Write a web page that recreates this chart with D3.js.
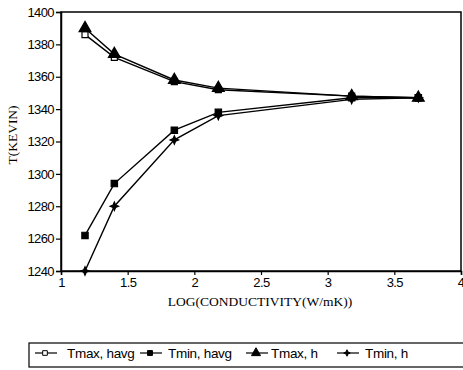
<!DOCTYPE html>
<html>
<head>
<meta charset="utf-8">
<script src="https://cdn.jsdelivr.net/npm/d3@7"></script>
<style>
  html, body { margin: 0; padding: 0; background: #fff; }
  svg { display: block; }
</style>
</head>
<body>
<script>
// log10 of thermal conductivity (W/mK)
const logK = [1.18, 1.40, 1.85, 2.18, 3.18, 3.68];
// temperatures in kelvin
const tmaxHavg = [1386, 1372, 1357, 1352, 1348, 1347];
const tminHavg = [1262, 1294, 1327, 1338, 1347, 1347];
const tmaxH    = [1390, 1374, 1358, 1353, 1348, 1347];
const tminH    = [1240, 1280, 1321, 1336, 1346, 1347];

const xTicks = [1, 1.5, 2, 2.5, 3, 3.5, 4];
const yTicks = [1240, 1260, 1280, 1300, 1320, 1340, 1360, 1380, 1400];
const seriesNames = ["Tmax, havg", "Tmin, havg", "Tmax, h", "Tmin, h"];

const W = 463, H = 370;
const plotL = 61, plotR = 461, plotT = 12, plotB = 271;

const svg = d3.select("body").append("svg")
  .attr("width", W).attr("height", H);

const x = d3.scaleLinear().domain([1, 4]).range([plotL, plotR]);
const y = d3.scaleLinear().domain([1240, 1400]).range([plotB, plotT]);

// four-pointed star marker
const star4 = {
  draw(ctx, size) {
    const r = Math.sqrt(size) * 0.9, q = r * 0.3;
    ctx.moveTo(0, -r); ctx.lineTo(q, -q); ctx.lineTo(r, 0); ctx.lineTo(q, q);
    ctx.lineTo(0, r); ctx.lineTo(-q, q); ctx.lineTo(-r, 0); ctx.lineTo(-q, -q);
    ctx.closePath();
  }
};

const series = [
  { name: seriesNames[0], values: tmaxHavg, sym: d3.symbolSquare, size: 36, fill: "#fff" },
  { name: seriesNames[1], values: tminHavg, sym: d3.symbolSquare, size: 40, fill: "#000" },
  { name: seriesNames[2], values: tmaxH,    sym: d3.symbolTriangle, size: 60, fill: "#000" },
  { name: seriesNames[3], values: tminH,    sym: star4, size: 22, fill: "#000" }
];

// frame
svg.append("rect")
  .attr("x", plotL).attr("y", plotT)
  .attr("width", plotR - plotL).attr("height", plotB - plotT)
  .attr("fill", "none").attr("stroke", "#000").attr("stroke-width", 1.5);

// axes
const tickFont = "Liberation Sans, Arial, sans-serif";
const gx = svg.append("g").attr("transform", `translate(0,${plotB})`)
  .call(d3.axisBottom(x).tickValues(xTicks).tickSize(4).tickPadding(3)
    .tickFormat(d => String(d)));
const gy = svg.append("g").attr("transform", `translate(${plotL},0)`)
  .call(d3.axisLeft(y).tickValues(yTicks).tickSize(5).tickPadding(2)
    .tickFormat(d3.format("d")));
[gx, gy].forEach(g => {
  g.select(".domain").attr("stroke-width", 1.5);
  g.selectAll(".tick line").attr("stroke-width", 1.2);
  g.selectAll("text").attr("font-family", tickFont).attr("font-size", 13)
    .attr("fill", "#000").attr("letter-spacing", -0.6);
});
// last x label sits at the window edge; keep it inside
gx.selectAll(".tick").filter(d => d === 4).select("text")
  .attr("text-anchor", "end").attr("dx", 3);

// axis titles
svg.append("text")
  .attr("x", (plotL + plotR) / 2 - 1).attr("y", 306)
  .attr("text-anchor", "middle")
  .attr("font-family", "Liberation Serif, Times New Roman, serif")
  .attr("font-size", 13.5)
  .text("LOG(CONDUCTIVITY(W/mK))");
svg.append("text")
  .attr("transform", "translate(17,135) rotate(-90)")
  .attr("text-anchor", "middle")
  .attr("font-family", "Liberation Serif, Times New Roman, serif")
  .attr("font-size", 13.5)
  .text("T(KEVIN)");

// lines and markers
const line = d3.line().x((d, i) => x(logK[i])).y(d => y(d));
series.forEach(s => {
  svg.append("path").datum(s.values)
    .attr("d", line).attr("fill", "none")
    .attr("stroke", "#000").attr("stroke-width", 1.4);
});
series.forEach(s => {
  svg.append("g").selectAll("path").data(s.values).join("path")
    .attr("transform", (d, i) => `translate(${x(logK[i])},${y(d)})`)
    .attr("d", d3.symbol().type(s.sym).size(s.size))
    .attr("fill", s.fill).attr("stroke", "#000").attr("stroke-width", 1.2);
});

// legend
const lg = svg.append("g");
lg.append("rect")
  .attr("x", 29).attr("y", 343).attr("width", 460).attr("height", 24)
  .attr("fill", "none").attr("stroke", "#000").attr("stroke-width", 1.2);
const legX = [35, 140, 246, 337];
const legTextX = [67, 168, 271, 365];
series.forEach((s, i) => {
  const g = lg.append("g");
  g.append("line")
    .attr("x1", legX[i]).attr("x2", legX[i] + 22)
    .attr("y1", 353).attr("y2", 353)
    .attr("stroke", "#000").attr("stroke-width", 1.2);
  g.append("path")
    .attr("transform", `translate(${legX[i] + 10},353)`)
    .attr("d", d3.symbol().type(s.sym).size(s.size * 0.6))
    .attr("fill", s.fill).attr("stroke", "#000").attr("stroke-width", 1);
  g.append("text")
    .attr("x", legTextX[i]).attr("y", 358)
    .attr("font-family", tickFont).attr("font-size", 13.5)
    .attr("letter-spacing", -0.3)
    .text(s.name);
});
</script>
</body>
</html>
